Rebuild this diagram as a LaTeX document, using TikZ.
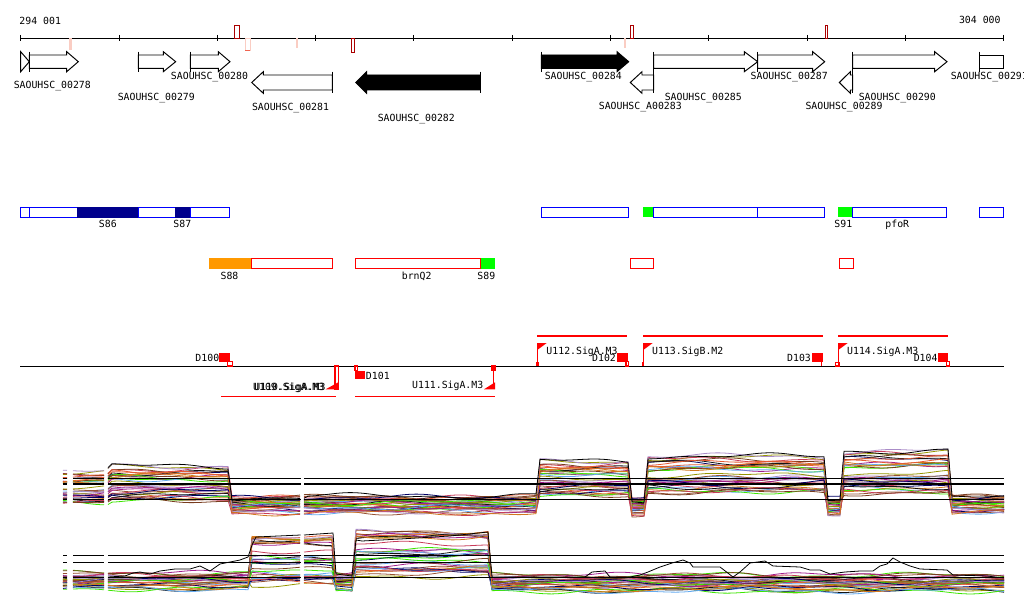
\documentclass[tikz,border=0pt]{standalone}
\usepackage{fontspec}
\newfontfamily\pixfont{DejaVu Sans Mono}
\definecolor{navyfill}{RGB}{0,0,140}
\definecolor{boxblue}{RGB}{0,0,255}
\definecolor{orng}{RGB}{255,153,0}
\definecolor{grn}{RGB}{0,255,0}
\definecolor{darkred}{RGB}{170,0,0}
\definecolor{pinkmark}{RGB}{250,205,195}
\definecolor{salmon}{RGB}{240,100,80}
\definecolor{dc0}{RGB}{230,90,50}
\definecolor{dc1}{RGB}{150,80,50}
\definecolor{dc2}{RGB}{150,150,0}
\definecolor{dc3}{RGB}{160,30,140}
\definecolor{dc4}{RGB}{60,230,0}
\definecolor{dc5}{RGB}{100,170,240}
\definecolor{dc6}{RGB}{0,0,100}
\definecolor{dc7}{RGB}{170,140,200}
\definecolor{dc8}{RGB}{200,60,90}
\definecolor{dc9}{RGB}{210,120,30}
\definecolor{dc10}{RGB}{120,60,30}
\definecolor{dc11}{RGB}{20,20,20}
\newcommand\genefwd[4]{%
  \draw[fill=#4] (#1,55) -- (#2,55) -- (#2,51.7) -- (#3,61.7) -- (#2,71.7) -- (#2,68.3) -- (#1,68.3) -- cycle;
  \draw (#1,51.7) -- (#1,71.7);}
\newcommand\generev[4]{%
  \draw[fill=#4] (#1,75) -- (#2,75) -- (#2,71.7) -- (#3,82.5) -- (#2,93.3) -- (#2,90) -- (#1,90) -- cycle;
  \draw (#1,71.7) -- (#1,93.3);}
\newcommand\dmv[4]{(#1,{#2+#4*#3+nz(#1,\p,\pp)})}
\newcommand\dpts[4]{\foreach \x in {#1} {-- (\x,{#2+#4*#3+nz(\x,\p,\pp)})}}
\begin{document}
\begin{tikzpicture}[x=0.02cm,y=-0.02cm,line width=0.55pt,
  declare function={nz(\q,\a,\b)=2.0*sin(\q*1.7+\a)+1.2*sin(\q*4.3+\b);},
  lbl/.style={font=\pixfont\fontsize{5.6}{6.7}\selectfont,inner sep=0pt,anchor=base},
  bbox/.style={draw=boxblue,fill=white,line width=0.5pt},
  rbox/.style={draw=red,fill=white},
  dline/.style={line width=0.45pt},
  refline/.style={line width=0.8pt,black},
  prom/.style={red,line width=0.6pt}]
\useasboundingbox (0,0) rectangle (1024,611);
\fill[white] (0,0) rectangle (1024,611);
\clip (0,0) rectangle (1024,611);

% ---------- axis ----------
\draw (20.7,38) -- (1003.7,38);
\foreach \k in {0,...,10} { \draw (20.7+98.3*\k,35) -- (20.7+98.3*\k,41); }
\node[lbl,anchor=base west] (n294) at (19,24.5) {294 001};
\node[lbl,anchor=base east] (n304) at (1001,24) {304 000};
\draw[darkred] (234.3,25) rectangle (239.3,38);
\draw[pinkmark] (245,38) rectangle (250,50);
\draw[salmon] (245,50) -- (250,50);
\draw[pinkmark,line width=1.2pt] (70.5,38) -- (70.5,50);
\draw[pinkmark,line width=1.2pt] (296.7,38) -- (296.7,48);
\draw[darkred] (351,38) rectangle (354.3,52);
\draw[darkred] (630.3,25) rectangle (633.7,38);
\draw[pinkmark,line width=1.2pt] (624.7,38) -- (624.7,48);
\draw[darkred] (825.3,25) rectangle (827.7,38);

% ---------- genes ----------
\draw[fill=white] (20.7,51.7) -- (29.3,61.7) -- (20.7,71.7) -- cycle;
\genefwd{29.3}{66.7}{78.3}{white}
\genefwd{138.3}{163.3}{175.7}{white}
\genefwd{190.3}{218.3}{230}{white}
\generev{332.3}{263.3}{251.7}{white}
\generev{480}{366.7}{355.7}{black}
\genefwd{541.3}{617}{628.7}{black}
\generev{653.7}{642}{630.3}{white}
\genefwd{653.7}{744.3}{757.7}{white}
\genefwd{757.7}{812.7}{824.7}{white}
\generev{852.7}{850.3}{839.3}{white}
\genefwd{852.7}{934.7}{947}{white}
\draw[fill=white] (979.7,55) rectangle (1003.7,68.3);
\draw (979.7,51.7) -- (979.7,71.7);

\node[lbl] (g278) at (52.3,89) {SAOUHSC\_00278};
\node[lbl] (g279) at (156.3,101) {SAOUHSC\_00279};
\node[lbl] (g280) at (209.5,80) {SAOUHSC\_00280};
\node[lbl] (g281) at (290.5,110.5) {SAOUHSC\_00281};
\node[lbl] (g282) at (416.3,121.5) {SAOUHSC\_00282};
\node[lbl] (g284) at (583.3,80) {SAOUHSC\_00284};
\node[lbl] (g283) at (640.3,110) {SAOUHSC\_A00283};
\node[lbl] (g285) at (703.3,100.5) {SAOUHSC\_00285};
\node[lbl] (g287) at (789.2,80) {SAOUHSC\_00287};
\node[lbl] (g289) at (844,110) {SAOUHSC\_00289};
\node[lbl] (g290) at (897.3,100.5) {SAOUHSC\_00290};
\node[lbl,anchor=base west] (g291) at (950.3,80) {SAOUHSC\_00291};

% ---------- blue track ----------
\draw[bbox] (20.7,207.3) rectangle (29.3,217.3);
\draw[bbox] (29.3,207.3) rectangle (77.3,217.3);
\draw[fill=navyfill,draw=navyfill,line width=0.5pt] (77.3,207.3) rectangle (138.3,217.3);
\draw[bbox] (138.3,207.3) rectangle (175,217.3);
\draw[fill=navyfill,draw=navyfill,line width=0.5pt] (175,207.3) rectangle (190.3,217.3);
\draw[bbox] (190.3,207.3) rectangle (229.3,217.3);
\draw[bbox] (541.3,207.3) rectangle (628.7,217.3);
\fill[grn] (643,207.3) rectangle (653.7,217.3);
\draw[bbox] (653.7,207.3) rectangle (757,217.3);
\draw[bbox] (757,207.3) rectangle (824.3,217.3);
\fill[grn] (838,207.3) rectangle (852,217.3);
\draw[bbox] (852,207.3) rectangle (946.3,217.3);
\draw[bbox] (979.3,207.3) rectangle (1003.7,217.3);
\node[lbl] (s86) at (107.8,228) {S86};
\node[lbl] (s87) at (182.3,228) {S87};
\node[lbl] (s91) at (843.3,228) {S91};
\node[lbl] (pfor) at (897.3,228) {pfoR};

% ---------- red track ----------
\fill[orng] (209,258.3) rectangle (251,268.7);
\draw[rbox] (251,258.3) rectangle (332.3,268.7);
\draw[rbox] (355,258.3) rectangle (480.7,268.7);
\fill[grn] (480.7,258.3) rectangle (495,268.7);
\draw[rbox] (630.3,258.3) rectangle (653.7,268.7);
\draw[rbox] (839.3,258.3) rectangle (853.3,268.7);
\node[lbl] (s88) at (229.5,279) {S88};
\node[lbl] (brnq) at (416.7,279) {brnQ2};
\node[lbl] (s89) at (486.3,279) {S89};

% ---------- promoter / terminator track ----------
\draw (20,366) -- (1004,366);
% D100
\fill[red] (219.3,353.3) rectangle (230,361.7);
\draw[prom] (227.3,361.7) rectangle (232.3,366);
\node[lbl,anchor=base west] (d100) at (195,361) {D100};
% U109 / U110
\draw[prom] (221,396.7) -- (335.7,396.7);
\draw[prom] (335,366) rectangle (338.3,389.3);
\fill[red] (325.7,389.3) -- (338.3,382.3) -- (338.3,389.3) -- cycle;
\node[lbl,anchor=base west] (u109) at (252.7,390.5) {U109.SigA.M3};
\node[lbl,anchor=base west] (u110) at (253.9,390.5) {U110.SigA.M3};
% D101
\fill[red] (355,370.7) rectangle (365,379);
\draw[prom] (355,366) rectangle (357.3,370.7);
\node[lbl,anchor=base west] (d101) at (365.5,379) {D101};
% U111
\draw[prom] (355,396.7) -- (495,396.7);
\draw[prom] (493.5,366) -- (493.5,389.3);
\draw[prom] (492,366) rectangle (495,370);
\fill[red] (484,389.3) -- (495,382.3) -- (495,389.3) -- cycle;
\node[lbl,anchor=base west] (u111) at (411.7,388) {U111.SigA.M3};
% U112
\draw[prom] (537.3,336) -- (626.7,336);
\draw[prom] (537.3,343) -- (537.3,366);
\fill[red] (537.3,343) -- (546.7,343) -- (537.3,350) -- cycle;
\fill[red] (536,362.3) rectangle (538.7,366);
\node[lbl,anchor=base west] (u112) at (546,354) {U112.SigA.M3};
% D102
\fill[red] (617.3,353.3) rectangle (627.7,361.7);
\draw[prom] (626,361.7) rectangle (628.3,366);
\node[lbl,anchor=base west] (d102) at (591.7,361) {D102};
% U113
\draw[prom] (643.3,336) -- (822.7,336);
\draw[prom] (643.3,343) -- (643.3,366);
\fill[red] (643.3,343) -- (652.7,343) -- (643.3,350) -- cycle;
\fill[red] (642,362.3) rectangle (644.3,366);
\node[lbl,anchor=base west] (u113) at (651.7,354) {U113.SigB.M2};
% D103
\fill[red] (811.7,353.3) rectangle (822.7,361.7);
\draw[prom] (821.7,361.7) -- (821.7,366);
\node[lbl,anchor=base west] (d103) at (786.7,361) {D103};
% U114
\draw[prom] (838.3,336) -- (947.7,336);
\draw[prom] (838.3,343) -- (838.3,366);
\fill[red] (838.3,343) -- (847.7,343) -- (838.3,350) -- cycle;
\draw[prom] (835.7,362.3) rectangle (839.3,366);
\node[lbl,anchor=base west] (u114) at (846.7,354) {U114.SigA.M3};
% D104
\fill[red] (938.3,353.3) rectangle (947.7,361.7);
\draw[prom] (946.7,361.7) rectangle (949.3,366);
\node[lbl,anchor=base west] (d104) at (913.3,361) {D104};

% ---------- expression plot 1 ----------
\pgfmathsetseed{11}
\foreach \i in {1,...,34} {
  \pgfmathsetmacro\f{rnd}
  \pgfmathsetmacro\g{rnd}
  \pgfmathsetmacro\p{360*rnd}
  \pgfmathsetmacro\pp{360*rnd}
  \pgfmathtruncatemacro\ci{mod(\i,12)}
  \draw[dline,dc\ci] \dmv{63}{472}{34}{\f} \dpts{67}{472}{34}{\f}
    \dmv{73}{472}{34}{\f} \dpts{76,80,...,104}{472}{34}{\f}
    \dmv{108}{470}{36}{\f} \dpts{112,116,...,228}{466}{38}{\f}
    \dpts{232,236,...,300}{497}{16}{\g}
    \dmv{304}{497}{16}{\g} \dpts{308,312,...,536}{497}{16}{\g}
    \dpts{540,544,...,628}{461}{38}{\f}
    \dpts{632,636,...,644}{499}{16}{\g}
    \dpts{648,652,...,824}{456}{40}{\f}
    \dpts{828,832,...,840}{499}{16}{\g}
    \dpts{844,848,...,948}{451}{46}{\f}
    \dpts{952,956,...,1004}{497}{16}{\g};
}
\begin{scope}
\def\p{40}\def\pp{200}\def\f{0}\def\g{0.05}
\draw[dline,black] \dmv{108}{470}{36}{\f} \dpts{112,116,...,228}{466}{38}{\f}
    \dpts{232,236,...,300}{497}{16}{\g}
    \dmv{304}{497}{16}{\g} \dpts{308,312,...,536}{495}{16}{\g}
    \dpts{540,544,...,628}{461}{38}{\f}
    \dpts{632,636,...,644}{499}{18}{\g}
    \dpts{648,652,...,824}{456}{40}{\f}
    \dpts{828,832,...,840}{499}{18}{\g}
    \dpts{844,848,...,948}{451}{46}{\f}
    \dpts{952,956,...,1004}{497}{16}{\g};
\end{scope}
\foreach \yy in {478.3,484,499.3} {
  \draw[refline] (63,\yy) -- (67,\yy) (73,\yy) -- (104,\yy) (108,\yy) -- (300.7,\yy) (304,\yy) -- (1004,\yy);
}

% ---------- expression plot 2 ----------
\pgfmathsetseed{23}
\foreach \i in {1,...,34} {
  \pgfmathsetmacro\f{rnd}
  \pgfmathsetmacro\g{rnd}
  \pgfmathsetmacro\p{360*rnd}
  \pgfmathsetmacro\pp{360*rnd}
  \pgfmathtruncatemacro\ci{mod(\i,12)}
  \draw[dline,dc\ci] \dmv{63}{573}{16}{\g} \dpts{67}{573}{16}{\g}
    \dmv{73}{573}{16}{\g} \dpts{76,80,...,104}{573}{16}{\g}
    \dmv{108}{573}{16}{\g} \dpts{112,116,...,248}{573}{16}{\g}
    \dpts{252,256,...,300}{537}{50}{\f}
    \dmv{304}{537}{50}{\f} \dpts{308,312,...,332}{537}{50}{\f}
    \dpts{336,340,...,352}{573}{17}{\g}
    \dpts{356,360,...,488}{532}{45}{\f}
    \dpts{492,496,...,1004}{575}{16}{\g};
}
\draw[dline,black] (63,577) -- (67,577) (73,577) -- (104,577)
  (108,577) -- (125,576) -- (133,573) -- (140,572) -- (150,574) -- (160,571) -- (175,569) -- (190,569) -- (200,566) -- (210,571) -- (220,564) -- (240,560) -- (248,557) -- (252,545) -- (256,537) -- (300.7,535)
  (304,535) -- (333,533) -- (336,574) -- (352,576) -- (356,540) -- (362,541) -- (400,539) -- (450,536) -- (488,532) -- (492,577) -- (585,577) -- (592,572) -- (605,571) -- (610,577) -- (630,577) -- (640,575) -- (648,572) -- (660,567) -- (672,563) -- (683,560) -- (690,563) -- (693,567) -- (720,567) -- (733,577) -- (740,572) -- (750,563) -- (765,561) -- (773,566) -- (800,567) -- (810,570) -- (820,570) -- (830,574) -- (845,572) -- (860,571) -- (873,571) -- (880,566) -- (887,564) -- (893,558) -- (900,562) -- (910,566) -- (920,569) -- (947,570) -- (953,575) -- (987,576) -- (1004,578);
\foreach \yy in {555.7,562.3,577.3} {
  \draw[refline] (63,\yy) -- (67,\yy) (73,\yy) -- (104,\yy) (108,\yy) -- (300.7,\yy) (304,\yy) -- (1004,\yy);
}
\end{tikzpicture}
\end{document}
